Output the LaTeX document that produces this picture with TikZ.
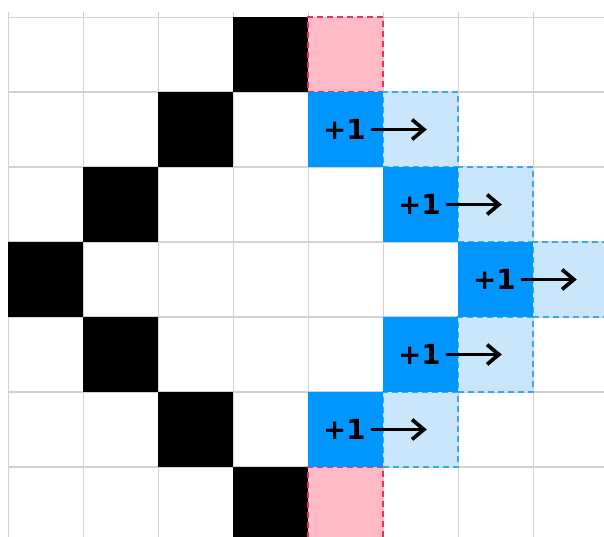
\documentclass[tikz,border=0pt]{standalone}
\usepackage{tikz}
\usepackage{xcolor}
\usepackage{fontspec}
\setsansfont{DejaVu Sans}
\usetikzlibrary{arrows.meta}
\definecolor{gridGray}{RGB}{210,210,210}
\definecolor{hitBlue}{RGB}{0,150,255}
\definecolor{ghostBlue}{RGB}{202,230,250}
\definecolor{ghostEdge}{RGB}{58,168,234}
\definecolor{markPink}{RGB}{255,186,200}
\definecolor{markRed}{RGB}{230,50,92}
\tikzset{
  cellBase/.style={minimum size=1cm,inner sep=0pt,outer sep=0pt},
  wallCell/.style={cellBase,fill=black},
  hitCell/.style={cellBase,fill=hitBlue},
  nextCell/.style={cellBase,fill=ghostBlue,draw=ghostEdge,line width=0.65pt,dash pattern=on 2.2pt off 1.6pt},
  stopCell/.style={cellBase,fill=markPink,draw=markRed,line width=0.65pt,dash pattern=on 2.2pt off 1.6pt},
  plusLabel/.style={inner sep=0.5pt,font=\sffamily\bfseries\fontsize{10.5}{11}\selectfont},
  pushArrow/.style={line width=1.5pt,line cap=round,-{Straight Barb[length=4.5pt,width=7.5pt,line width=1.4pt]}}
}

\begin{document}
\begin{tikzpicture}
\useasboundingbox (-0.111,0.227) rectangle (7.943,-6.933);
\clip (-0.111,0.227) rectangle (7.943,-6.933);
\draw[gridGray,line width=0.4pt] (0,-7) grid (8,0);
\foreach \x in {0,...,8}
  \draw[gridGray,line width=0.4pt] (\x,0) -- (\x,0.07);
% the wall, one cell per row
\foreach \c/\r [count=\i] in {3/0,2/1,1/2,0/3,1/4,2/5,3/6}
  \node[wallCell] (wall\i) at (\c+0.5,-\r-0.5) {};
\node[stopCell] (stopTop) at (4.5,-0.5) {};
\node[stopCell] (stopBottom) at (4.5,-6.5) {};
% cells that get the +1, and where they move to
\foreach \c/\r [count=\i] in {4/1,5/2,6/3,5/4,4/5}
  \node[nextCell] (next\i) at (\c+1.5,-\r-0.5) {};
\foreach \c/\r [count=\i] in {4/1,5/2,6/3,5/4,4/5}{
  \node[hitCell] (hit\i) at (\c+0.5,-\r-0.5) {};
  \node[plusLabel] (plus\i) at ([xshift=-0.02cm]hit\i.center) {+1};
  \coordinate (tip\i) at ([xshift=0.08cm]next\i.center);
  \draw[pushArrow] ([xshift=2pt]plus\i.east) -- (tip\i);
}
\end{tikzpicture}
\end{document}
